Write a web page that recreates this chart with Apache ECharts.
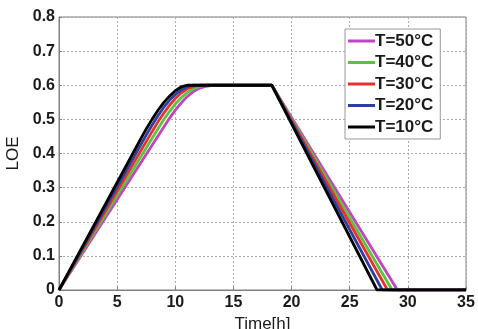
<!DOCTYPE html>
<html>
<head>
<meta charset="utf-8">
<script src="https://cdn.jsdelivr.net/npm/echarts@6/dist/echarts.min.js"></script>
<style>html,body{margin:0;padding:0;background:#fff}#c{width:478px;height:329px}</style>
</head>
<body>
<div id="c"></div>
<script>
const seriesNames = ['T=50°C','T=40°C','T=30°C','T=20°C','T=10°C'];
const seriesColors = ['#bf45c2','#5cc43c','#e8302c','#2f3f9e','#000000'];
const t50 = [[0,0],[5,0.265],[9,0.477],[9.5,0.503],[10,0.527],[10.5,0.548],[11,0.566],[11.5,0.58],[12,0.59],[12.5,0.596],[13.2,0.6],[18.3,0.6],[29.1,0],[35,0]];
const t40 = [[0,0],[5,0.2775],[8.5,0.472],[9,0.499],[9.5,0.523],[10,0.545],[10.5,0.563],[11,0.578],[11.5,0.589],[12,0.596],[12.6,0.6],[18.3,0.6],[28.65,0],[35,0]];
const t30 = [[0,0],[5,0.29],[8,0.464],[8.5,0.492],[9,0.518],[9.5,0.541],[10,0.561],[10.5,0.577],[11,0.589],[11.5,0.596],[12.1,0.6],[18.3,0.6],[28.25,0],[35,0]];
const t20 = [[0,0],[5,0.3025],[7.5,0.454],[8,0.483],[8.5,0.51],[9,0.535],[9.5,0.556],[10,0.573],[10.5,0.586],[11,0.595],[11.5,0.6],[18.3,0.6],[27.8,0],[35,0]];
const t10 = [[0,0],[5,0.315],[7,0.441],[7.5,0.472],[8,0.5],[8.5,0.526],[9,0.549],[9.5,0.568],[10,0.584],[10.5,0.595],[11,0.6],[18.3,0.6],[27.35,0],[35,0]];
const seriesData = [t50, t40, t30, t20, t10];

const chart = echarts.init(document.getElementById('c'), null, {renderer:'canvas'});
const font = 'Liberation Sans, Arial, sans-serif';
chart.setOption({
  animation: false,
  backgroundColor: '#fff',
  grid: {left: 59, right: 12, top: 17, bottom: 39, show: true, borderColor: '#808080', borderWidth: 1,
         containLabel: false, outerBoundsMode: 'none'},
  xAxis: {
    type: 'value', min: 0, max: 35, interval: 5,
    name: 'Time[h]', nameLocation: 'middle', nameGap: 24,
    nameTextStyle: {fontFamily: font, fontSize: 17, color: '#1a1a1a'},
    axisLine: {show: true, lineStyle: {color: '#808080'}},
    axisTick: {show: true, inside: true, length: 3, lineStyle: {color: '#808080'}},
    axisLabel: {fontFamily: font, fontWeight: 'bold', fontSize: 16, color: '#1a1a1a', margin: 5},
    splitLine: {show: true, lineStyle: {color: '#aaa', type: [2,2], width: 1}}
  },
  yAxis: {
    type: 'value', min: 0, max: 0.8, interval: 0.1,
    name: 'LOE', nameLocation: 'middle', nameGap: 35, nameRotate: 90,
    nameTextStyle: {fontFamily: font, fontSize: 17, color: '#1a1a1a'},
    axisLine: {show: true, lineStyle: {color: '#808080'}},
    axisTick: {show: true, inside: true, length: 3, lineStyle: {color: '#808080'}},
    axisLabel: {fontFamily: font, fontWeight: 'bold', fontSize: 16, color: '#1a1a1a', margin: 4,
      formatter: v => (v === 0 ? '0' : v.toFixed(1))},
    splitLine: {show: true, lineStyle: {color: '#aaa', type: [2,2], width: 1}}
  },
  legend: {
    orient: 'vertical', left: 345, top: 29,
    data: seriesNames.map((n,i) => ({name: n, icon: 'rect', itemStyle: {color: seriesColors[i]}})),
    itemWidth: 27, itemHeight: 3, itemGap: 3.5,
    padding: [3, 7, 3, 3],
    backgroundColor: '#fff', borderColor: '#999', borderWidth: 1, borderRadius: 0,
    textStyle: {fontFamily: font, fontWeight: 'bold', fontSize: 17, color: '#1a1a1a', padding: [0,0,0,-5], lineHeight: 18}
  },
  series: seriesNames.map((n,i) => ({
    name: n, type: 'line', data: seriesData[i], showSymbol: false, symbol: 'none',
    lineStyle: {color: seriesColors[i], width: 2.8}, itemStyle: {color: seriesColors[i]}, z: 2 + i
  }))
});
</script>
</body>
</html>
